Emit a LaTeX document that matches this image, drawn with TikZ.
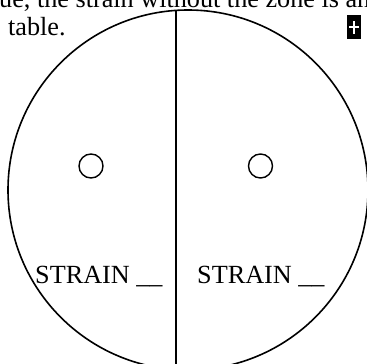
\documentclass[tikz,border=0pt]{standalone}
\usepackage{fontspec}
\setmainfont{Liberation Serif}
\begin{document}
\begin{tikzpicture}[x=1pt,y=-1pt,
  txt/.style={font=\fontsize{26.2}{30}\selectfont, inner sep=0pt, anchor=base west},
  ring/.style={draw=black, line width=1.6pt},
  spot/.style={draw=black, line width=1.4pt, circle, minimum size=24pt, inner sep=0pt}]
\useasboundingbox (0,0) rectangle (367,364);
\clip (0,0) rectangle (367,364);
% big plate
\coordinate (C) at (188,190);
\draw[ring] (C) circle[radius=180];
\coordinate (dtop) at (176,10.4);
\coordinate (dbot) at (176,370);
\draw[line width=1.6pt] (dtop) -- (dbot);
% colonies
\node[spot] (s1) at (91,166) {};
\node[spot] (s2) at (260.5,166) {};
% labels
\node[txt] (l1) at (35,283) {STRAIN \_\_};
\node[txt] (l2) at (197,283) {STRAIN \_\_};
% top text
\node[txt] (t1) at (-1,7.5) {ue, the strain without the zone is an};
\node[txt] (t2) at (8,35) {table.};
% handle
\node[fill=black, minimum width=14pt, minimum height=24pt, inner sep=0pt] (h) at (354,27) {};
\draw[white, line width=1.2pt] ([xshift=-5pt]h.center) -- ([xshift=5pt]h.center);
\draw[white, line width=1.2pt] ([yshift=-6.5pt]h.center) -- ([yshift=6.5pt]h.center);
\end{tikzpicture}
\end{document}
